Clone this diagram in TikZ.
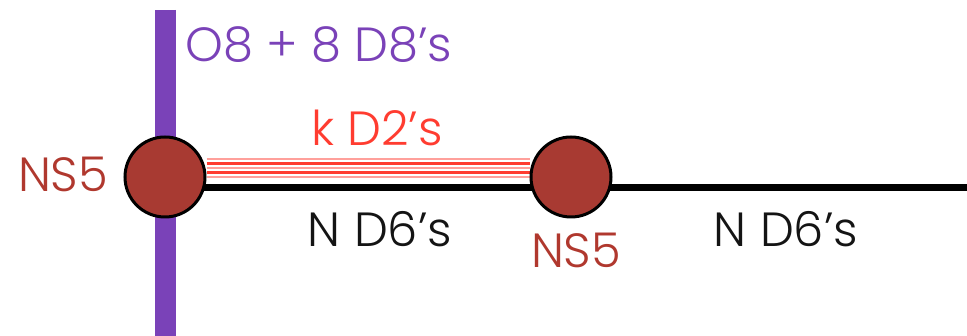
\documentclass[tikz,border=0pt]{standalone}
\usepackage{fontspec}
\setmainfont{Poppins}[UprightFont=* Light]
\definecolor{barpurple}{RGB}{122,66,184}
\definecolor{nsfill}{RGB}{168,58,50}
\definecolor{nstext}{RGB}{176,56,46}
\definecolor{dtwo}{RGB}{255,60,48}
\definecolor{dtwopink}{RGB}{255,160,155}
\definecolor{txtblack}{RGB}{20,20,20}
\begin{document}
\begin{tikzpicture}[x=1pt,y=-1pt,
  lbl/.style={inner sep=0pt,anchor=base,font=\fontsize{48}{48}\selectfont},
  ns/.style={circle,draw=black,line width=3pt,fill=nsfill,minimum size=80pt,inner sep=0pt},
  d2line/.style={line width=2.2pt}]
\useasboundingbox (0,0) rectangle (967,336);
\coordinate (bartop) at (165,10);
\coordinate (barbot) at (165,336);
\coordinate (lineend) at (967,188);
\draw[barpurple,line width=21pt] (bartop) -- (barbot);
\node[ns,draw=none,fill=none] (ns1) at (165,177) {};
\node[ns,draw=none,fill=none] (ns2) at (571,177) {};
% black D6 line
\draw[black,line width=7pt] (ns1.center |- lineend) -- (lineend);
% D2 lines
\foreach \dy/\c in {-18/dtwopink,-13.5/dtwo,-9/dtwopink,-4.5/dtwo,0/dtwopink}{
  \draw[\c,d2line] ([yshift=-\dy pt]ns1.east) -- ([yshift=-\dy pt]ns2.west);
}
\node[ns] at (ns1) {};
\node[ns] at (ns2) {};
\node[lbl,text=barpurple] (o8) at (319,62) {O8 + 8 D8’s};
\node[lbl,text=dtwo] (kd2) at (377,146) {k D2’s};
\node[lbl,text=nstext] (nsl) at (63,192) {NS5};
\node[lbl,text=txtblack] (nd6a) at (380,247) {N D6’s};
\node[lbl,text=nstext] (nsb) at (576,268) {NS5};
\node[lbl,text=txtblack] (nd6b) at (786,247) {N D6’s};
\end{tikzpicture}
\end{document}
